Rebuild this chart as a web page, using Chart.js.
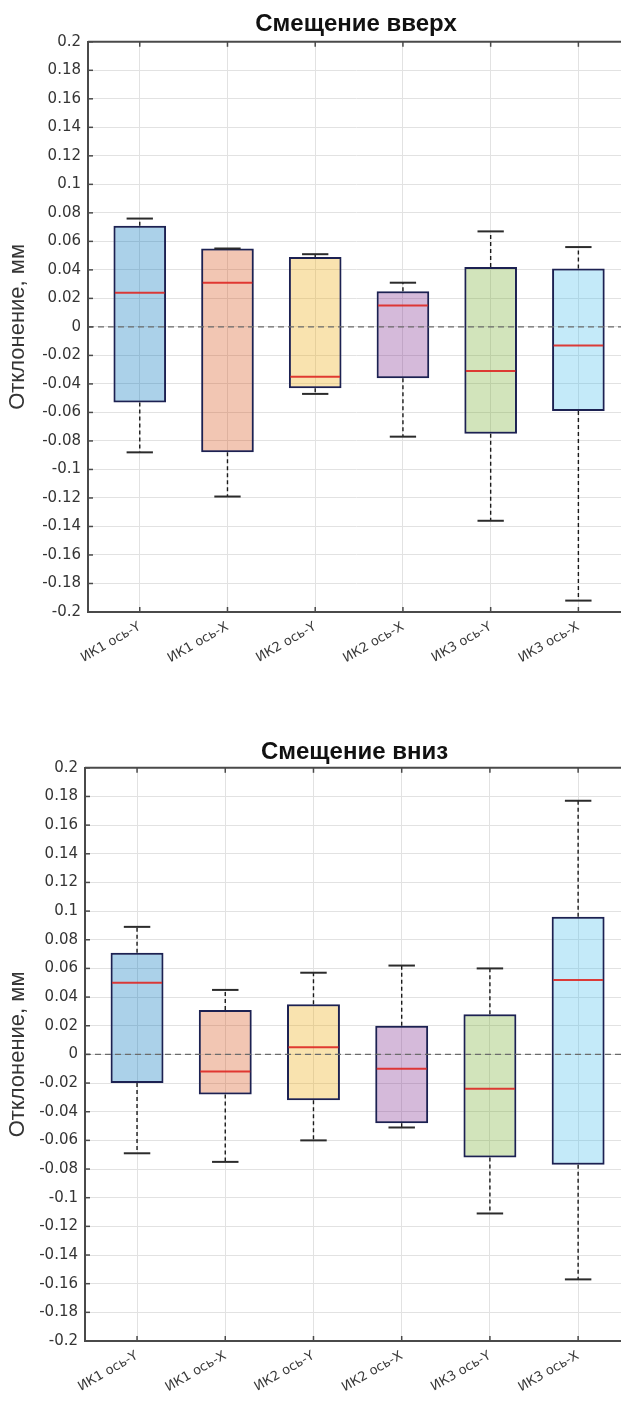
<!DOCTYPE html>
<html>
<head>
<meta charset="utf-8">
<script src="https://cdn.jsdelivr.net/npm/chart.js@4.4.1/dist/chart.umd.min.js"></script>
<style>
  html, body { margin: 0; padding: 0; background: #fff; overflow: hidden; }
  canvas { position: absolute; left: 0; }
  #up { top: 0; }
  #down { top: 700px; }
</style>
</head>
<body>
<canvas id="up" width="624" height="700"></canvas>
<canvas id="down" width="624" height="705"></canvas>
<script>
const categories = ["ИК1 ось-Y", "ИК1 ось-X", "ИК2 ось-Y", "ИК2 ось-X", "ИК3 ось-Y", "ИК3 ось-X"];
const yTicks = [-0.2, 0.2, 0.02];

// Смещение вверх
const upMax = [0.076, 0.055, 0.051, 0.031, 0.067, 0.056];
const upQ3 = [0.071, 0.055, 0.049, 0.025, 0.042, 0.041];
const upMed = [0.024, 0.031, -0.035, 0.015, -0.031, -0.013];
const upQ1 = [-0.053, -0.088, -0.043, -0.036, -0.075, -0.059];
const upMin = [-0.088, -0.119, -0.047, -0.077, -0.136, -0.192];

// Смещение вниз
const dnMax = [0.089, 0.045, 0.057, 0.062, 0.060, 0.177];
const dnQ3 = [0.071, 0.031, 0.035, 0.020, 0.028, 0.096];
const dnMed = [0.050, -0.012, 0.005, -0.010, -0.024, 0.052];
const dnQ1 = [-0.020, -0.028, -0.032, -0.048, -0.072, -0.077];
const dnMin = [-0.069, -0.075, -0.060, -0.051, -0.111, -0.157];

const fills = [
  "rgba(0,114,189,0.33)",
  "rgba(217,83,25,0.33)",
  "rgba(237,177,32,0.36)",
  "rgba(126,47,142,0.33)",
  "rgba(119,172,48,0.33)",
  "rgba(77,190,238,0.33)"
];
const FONT = "'Liberation Sans', Arial, sans-serif";
const WIDE = "'DejaVu Sans', sans-serif";
const axisColor = "#4a4a4a";

function line(ctx, x1, y1, x2, y2) {
  ctx.beginPath();
  ctx.moveTo(x1, y1);
  ctx.lineTo(x2, y2);
  ctx.stroke();
}

const boxParts = {
  id: "boxParts",
  afterDatasetsDraw(chart, args, opts) {
    const { ctx, chartArea: a, scales: { x, y } } = chart;
    const step = x.getPixelForValue(2) - x.getPixelForValue(1);
    ctx.save();

    // нулевая линия
    ctx.strokeStyle = "#6b6b6b";
    ctx.lineWidth = 1.2;
    ctx.setLineDash([6, 4]);
    line(ctx, a.left, y.getPixelForValue(0), a.right, y.getPixelForValue(0));

    for (let i = 0; i < categories.length; i++) {
      const cx = x.getPixelForValue(i + 1);
      const pMax = y.getPixelForValue(opts.max[i]);
      const pQ3 = y.getPixelForValue(opts.q3[i]);
      const pQ1 = y.getPixelForValue(opts.q1[i]);
      const pMin = y.getPixelForValue(opts.min[i]);
      const pMed = y.getPixelForValue(opts.med[i]);

      ctx.strokeStyle = "#1a1a1a";
      ctx.lineWidth = 1.4;
      ctx.setLineDash([4, 3]);
      if (pMax < pQ3 - 1) line(ctx, cx, pQ3, cx, pMax);
      line(ctx, cx, pQ1, cx, pMin);

      ctx.setLineDash([]);
      ctx.lineWidth = 2;
      ctx.strokeStyle = "#2b2b2b";
      const cap = step * 0.15;
      line(ctx, cx - cap, pMax, cx + cap, pMax);
      line(ctx, cx - cap, pMin, cx + cap, pMin);

      ctx.strokeStyle = "rgba(222,40,36,0.9)";
      ctx.lineWidth = 2;
      const half = step * 0.3 - 1.5;
      line(ctx, cx - half, pMed, cx + half, pMed);
    }

    // рамка сверху и внутренние риски
    ctx.strokeStyle = axisColor;
    ctx.lineWidth = 2;
    line(ctx, a.left, a.top, a.right, a.top);
    ctx.lineWidth = 1.5;
    for (let v = yTicks[0]; v <= yTicks[1] + 1e-9; v += yTicks[2]) {
      const py = y.getPixelForValue(v);
      line(ctx, a.left, py, a.left + 5, py);
    }
    for (let i = 0; i < categories.length; i++) {
      const cx = x.getPixelForValue(i + 1);
      line(ctx, cx, a.top, cx, a.top + 5);
      line(ctx, cx, a.bottom, cx, a.bottom - 5);
    }
    ctx.restore();
  }
};

function makeChart(id, title, q1, q3, med, min, max, sizes) {
  const data = q1.map((v, i) => ({ x: i + 1, y: [v, q3[i]] }));
  return new Chart(document.getElementById(id), {
    type: "bar",
    data: {
      datasets: [{
        data: data,
        backgroundColor: fills,
        borderColor: "#1c2152",
        borderWidth: 2,
        borderSkipped: false,
        barPercentage: 0.6,
        categoryPercentage: 1
      }]
    },
    options: {
      responsive: false,
      animation: false,
      layout: { padding: 0 },
      plugins: {
        legend: { display: false },
        tooltip: { enabled: false },
        title: {
          display: true,
          text: title,
          fullSize: false,
          color: "#111",
          font: { family: FONT, size: 24, weight: "bold" },
          padding: sizes.titlePad
        },
        boxParts: { q1: q1, q3: q3, med: med, min: min, max: max }
      },
      scales: {
        x: {
          type: "linear",
          offset: false,
          min: 0.41,
          max: 6.52,
          afterFit: (s) => { s.height = sizes.xHeight; },
          grid: { color: "#e2e2e2", drawTicks: false, offset: false },
          border: { color: axisColor, width: 2 },
          ticks: {
            stepSize: 1,
            includeBounds: false,
            autoSkip: false,
            maxRotation: 30,
            minRotation: 30,
            padding: 7,
            color: "#3a3a3a",
            font: { family: WIDE, size: 13 },
            callback: (v) => Number.isInteger(v) ? categories[v - 1] : ""
          }
        },
        y: {
          min: yTicks[0],
          max: yTicks[1],
          afterFit: (s) => { s.width = sizes.yWidth; },
          grid: { color: "#e2e2e2", drawTicks: false },
          border: { color: axisColor, width: 2 },
          ticks: {
            stepSize: yTicks[2],
            padding: 7,
            color: "#353535",
            font: { family: WIDE, size: 15 },
            callback: (v) => String(+v.toFixed(2))
          },
          title: {
            display: true,
            text: "Отклонение, мм",
            color: "#353535",
            font: { family: FONT, size: 22 },
            padding: { top: 5, bottom: 0 }
          }
        }
      }
    },
    plugins: [boxParts]
  });
}

makeChart("up", "Смещение вверх", upQ1, upQ3, upMed, upMin, upMax,
  { titlePad: { top: 10, bottom: 3 }, xHeight: 88, yWidth: 88 });
makeChart("down", "Смещение вниз", dnQ1, dnQ3, dnMed, dnMin, dnMax,
  { titlePad: { top: 38, bottom: 1 }, xHeight: 64, yWidth: 85 });
</script>
</body>
</html>
